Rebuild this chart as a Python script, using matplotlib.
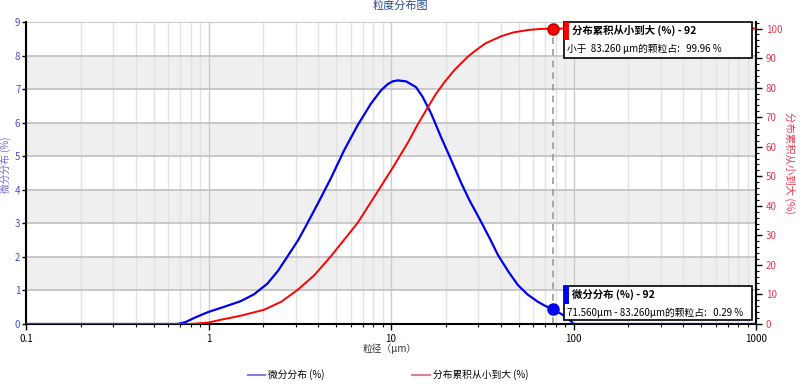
import matplotlib
matplotlib.use("Agg")
import matplotlib.pyplot as plt
from matplotlib.lines import Line2D
from matplotlib.patches import Rectangle
from matplotlib.ticker import LogLocator, MultipleLocator, NullFormatter, FixedLocator

plt.rcParams['font.family'] = ['Noto Sans CJK SC', 'DejaVu Sans']

# differential distribution (%), left axis
size_diff = [0.1, 0.68, 0.75, 0.85, 1.0, 1.2, 1.5, 1.77, 2.1, 2.4, 2.7, 3.1, 3.48, 4.0,
             4.68, 5.54, 6.56, 7.77, 8.81, 9.6, 10.2, 10.9, 12.1, 13.7, 14.9, 16.6,
             18.8, 21.4, 24.3, 26.9, 31.2, 35.0, 38.6, 44.0, 49.6, 56.0, 63.9, 70.0,
             77.3, 85.0, 93.5, 100, 1000]
diff_pct = [0, 0, 0.06, 0.2, 0.36, 0.5, 0.68, 0.88, 1.2, 1.58, 2.0, 2.5, 3.0, 3.62,
            4.34, 5.18, 5.92, 6.57, 6.96, 7.15, 7.23, 7.26, 7.23, 7.06, 6.77, 6.27,
            5.57, 4.88, 4.19, 3.69, 3.04, 2.52, 2.05, 1.56, 1.16, 0.88, 0.66, 0.54,
            0.44, 0.31, 0.17, 0, 0]

# cumulative distribution (%), right axis
size_cum = [0.1, 0.8, 1.0, 1.16, 1.5, 2.01, 2.5, 3.07, 3.8, 4.68, 5.5, 6.56, 8.09,
            10.2, 12.4, 14.0, 15.9, 17.6, 19.6, 22.3, 26.4, 28.7, 33.0, 40.2, 47.0,
            56.4, 66.0, 77.3, 1000]
cum_pct = [0, 0, 0.5, 1.4, 2.8, 4.8, 7.5, 11.5, 16.5, 22.9, 28.3, 34.2, 43.0,
           52.8, 61.5, 67.5, 73.3, 77.8, 81.8, 86.0, 90.5, 92.3, 95.0, 97.4, 98.7,
           99.5, 99.85, 99.96, 100]

pick_size = 77.3
pick_diff = 0.44
pick_cum = 99.96

x_ticks = [0.1, 1, 10, 100, 1000]
x_labels = ['0.1', '1', '10', '100', '1000']

W, H = 800, 385
fig = plt.figure(figsize=(W / 100, H / 100), dpi=100)
ax = fig.add_axes([26 / W, 61 / H, 730 / W, 302 / H])
ax2 = ax.twinx()

ax.set_xscale('log')
ax.set_xlim(0.1, 1000)
ax.set_ylim(0, 9)
ax2.set_ylim(0, 102.2)

for lo in (1, 3, 5, 7):
    ax.axhspan(lo, lo + 1, color='#efefef', zorder=0, lw=0)

ax.set_axisbelow(True)
ax.yaxis.set_major_locator(MultipleLocator(1))
ax.xaxis.set_major_locator(FixedLocator(x_ticks))
ax.xaxis.set_minor_locator(LogLocator(base=10, subs=range(2, 10)))
ax.xaxis.set_minor_formatter(NullFormatter())
ax.set_xticklabels(x_labels)
ax.grid(which='major', axis='y', color='#c0c0c0', lw=1.2)
ax.grid(which='major', axis='x', color='#cccccc', lw=1)
ax.grid(which='minor', axis='x', color='#e2e2e2', lw=1)

ax.axvline(pick_size, color='#9a9a9a', ls=(0, (4, 3)), lw=1.2, zorder=2)

ax.plot(size_diff, diff_pct, color='#0000ee', lw=1.6, zorder=3)
ax2.plot(size_cum, cum_pct, color='#ff0000', lw=1.4, zorder=3)
ax.plot([pick_size], [pick_diff], 'o', color='#0000ee', ms=8, zorder=4)
ax2.plot([pick_size], [pick_cum], 'o', color='#ff0000', mec='#b00000', ms=8, zorder=4)

ax2.yaxis.set_major_locator(MultipleLocator(10))
ax2.yaxis.set_minor_locator(MultipleLocator(2))

for s in ('top', 'right'):
    ax.spines[s].set_visible(False)
for s in ('top', 'left', 'bottom'):
    ax2.spines[s].set_visible(False)
ax.spines['left'].set_linewidth(1.5)
ax.spines['bottom'].set_linewidth(1.5)
ax2.spines['right'].set_linewidth(1.5)

ax.tick_params(axis='y', which='major', length=3, width=1, colors='black',
               labelcolor='#4a4ad8', labelsize=7, pad=1)
ax.tick_params(axis='x', which='major', length=4, width=1, labelsize=7, pad=3)
ax.tick_params(axis='x', which='minor', length=2.5, width=0.8)
ax2.tick_params(axis='y', which='major', length=4, width=1,
                labelcolor='#e8384f', labelsize=7, pad=3)
ax2.tick_params(axis='y', which='minor', length=2, width=0.8)

fig.text(400 / W, 1 - 6 / H, '粒度分布图', color='#27489a', fontsize=8,
         ha='center', va='center')
fig.text(6 / W, 1 - 165 / H, '微分分布 (%)', color='#6a6ad8', fontsize=7,
         rotation=90, ha='center', va='center')
fig.text(790 / W, 1 - 163 / H, '分布累积从小到大 (%)', color='#e8384f', fontsize=7.5,
         rotation=270, ha='center', va='center')
fig.text(390 / W, 1 - 349 / H, '粒径（μm）', color='#333333', fontsize=7,
         ha='center', va='center')


def box(x0, y0, x1, y1, color, title, line):
    fig.add_artist(Rectangle((x0 / W, 1 - y1 / H), (x1 - x0) / W, (y1 - y0) / H,
                             transform=fig.transFigure, facecolor='white',
                             edgecolor='black', lw=1.2, zorder=5))
    fig.add_artist(Rectangle((x0 / W, 1 - (y0 + 18) / H), 5 / W, 18 / H,
                             transform=fig.transFigure, facecolor=color,
                             edgecolor='none', zorder=6))
    fig.text((x0 + 8) / W, 1 - (y0 + 8.5) / H, title, fontsize=7.5, fontweight='bold',
             ha='left', va='center', zorder=7)
    fig.text((x0 + 3) / W, 1 - (y0 + 27) / H, line, fontsize=7,
             ha='left', va='center', zorder=7)


box(564, 22, 752, 58, '#ff0000', '分布累积从小到大 (%) - 92',
    '小于  83.260 μm的颗粒占:   99.96 %')
box(564, 286, 752, 320, '#0000ee', '微分分布 (%) - 92',
    '71.560μm - 83.260μm的颗粒占:   0.29 %')

handles = [Line2D([], [], color='#8282d6', lw=1.5),
           Line2D([], [], color='#e0808f', lw=1.5)]
fig.legend(handles, ['微分分布 (%)', '分布累积从小到大 (%)'], loc='center',
           bbox_to_anchor=(388 / W, 1 - 375 / H), ncol=2, frameon=False,
           fontsize=7, handlelength=1.8, handletextpad=0.3, columnspacing=9)

fig.savefig('out.png', dpi=100)
